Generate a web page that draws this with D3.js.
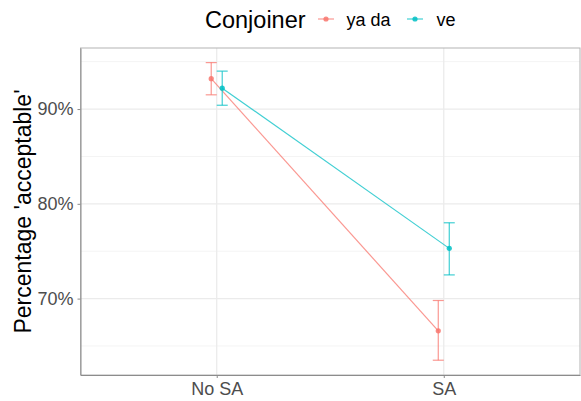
<!DOCTYPE html>
<html>
<head>
<meta charset="utf-8">
<script src="https://cdn.jsdelivr.net/npm/d3@7"></script>
<style>
  body { margin: 0; background: #fff; }
  svg { display: block; font-family: "Liberation Sans", Arial, sans-serif; }
</style>
</head>
<body>
<div id="chart"></div>
<script>
// data
const conditions = ["No SA", "SA"];
const conjoiners = ["ya da", "ve"];
const colours = ["#F8766D", "#00BFC4"];
const meanYada = [93.2, 66.6];
const lowYada = [91.5, 63.5];
const highYada = [94.9, 69.8];
const meanVe = [92.2, 75.3];
const lowVe = [90.4, 72.5];
const highVe = [94.0, 78.0];
const yTicks = [70, 80, 90];
const yMinor = [65, 75, 85, 95];

const series = [
    { name: conjoiners[0], mean: meanYada, low: lowYada, high: highYada, colour: colours[0], dodge: -5.5 },
    { name: conjoiners[1], mean: meanVe, low: lowVe, high: highVe, colour: colours[1], dodge: 5.5 }
];

const width = 581, height = 401;
const margin = { top: 48, right: 1, bottom: 26, left: 80.5 };
const innerW = width - margin.left - margin.right;
const innerH = height - margin.top - margin.bottom;

const svg = d3.select("#chart").append("svg")
    .attr("width", width)
    .attr("height", height);

const g = svg.append("g")
    .attr("transform", `translate(${margin.left},${margin.top})`);

// discrete axis with 0.6 expansion each side
const x = d3.scalePoint()
    .domain(conditions)
    .range([0, innerW])
    .padding(0.6);

const y = d3.scaleLinear()
    .domain([61.94, 96.44])
    .range([innerH, 0]);

// grid
g.selectAll(".minor")
    .data(yMinor)
    .enter().append("line")
    .attr("x1", 0).attr("x2", innerW)
    .attr("y1", d => y(d)).attr("y2", d => y(d))
    .style("stroke", "#f4f4f4")
    .style("stroke-width", 1);

g.selectAll(".major")
    .data(yTicks)
    .enter().append("line")
    .attr("x1", 0).attr("x2", innerW)
    .attr("y1", d => y(d)).attr("y2", d => y(d))
    .style("stroke", "#ebebeb")
    .style("stroke-width", 1.3);

g.selectAll(".vgrid")
    .data(conditions)
    .enter().append("line")
    .attr("x1", d => x(d)).attr("x2", d => x(d))
    .attr("y1", 0).attr("y2", innerH)
    .style("stroke", "#ebebeb")
    .style("stroke-width", 1.3);

// panel border
g.append("rect")
    .attr("x", 0).attr("y", 0)
    .attr("width", innerW).attr("height", innerH)
    .style("fill", "none")
    .style("stroke", "#b3b3b3")
    .style("stroke-width", 1);

// axes
const xAxis = g.append("g")
    .attr("transform", `translate(0,${innerH})`)
    .call(d3.axisBottom(x).tickSizeInner(3).tickSizeOuter(0).tickPadding(4));

const yAxis = g.append("g")
    .call(d3.axisLeft(y).tickValues(yTicks).tickSizeInner(3).tickSizeOuter(0).tickPadding(4).tickFormat(d => d + "%"));

[xAxis, yAxis].forEach(a => {
    a.select(".domain").style("stroke", "#8c8c8c").style("stroke-width", 1);
    a.selectAll(".tick line").style("stroke", "#8c8c8c");
    a.selectAll(".tick text")
        .style("font-size", "18px")
        .style("fill", "#4d4d4d")
        .style("font-family", "Liberation Sans, Arial, sans-serif");
});

// lines, error bars, points
series.forEach(s => {
    const sg = g.append("g");
    sg.append("path")
        .datum(s.mean)
        .attr("d", d3.line().x((d, i) => x(conditions[i]) + s.dodge).y(d => y(d)))
        .style("fill", "none")
        .style("stroke", s.colour)
        .style("stroke-opacity", 0.75)
        .style("stroke-width", 1.2);

    conditions.forEach((c, i) => {
        const cx = x(c) + s.dodge;
        const eb = sg.append("g")
            .style("stroke", s.colour)
            .style("stroke-opacity", 0.75)
            .style("stroke-width", 1.2);
        eb.append("line")
            .attr("x1", cx).attr("x2", cx)
            .attr("y1", y(s.low[i])).attr("y2", y(s.high[i]));
        eb.append("line")
            .attr("x1", cx - 5.5).attr("x2", cx + 5.5)
            .attr("y1", y(s.low[i])).attr("y2", y(s.low[i]));
        eb.append("line")
            .attr("x1", cx - 5.5).attr("x2", cx + 5.5)
            .attr("y1", y(s.high[i])).attr("y2", y(s.high[i]));
    });

    sg.selectAll("circle")
        .data(s.mean)
        .enter().append("circle")
        .attr("cx", (d, i) => x(conditions[i]) + s.dodge)
        .attr("cy", d => y(d))
        .attr("r", 2.6)
        .style("fill", s.colour)
        .style("fill-opacity", 0.85);
});

// y title
svg.append("text")
    .attr("transform", `translate(31,${margin.top + innerH / 2}) rotate(-90)`)
    .attr("text-anchor", "middle")
    .style("font-size", "23px")
    .style("fill", "#000")
    .text("Percentage 'acceptable'");

// legend on top
const legend = svg.append("g");
legend.append("text")
    .attr("x", 205).attr("y", 28)
    .style("font-size", "23.5px")
    .text("Conjoiner");

const keyX = [318, 407];
const labelX = [346.5, 436.5];
series.forEach((s, i) => {
    legend.append("line")
        .attr("x1", keyX[i]).attr("x2", keyX[i] + 16)
        .attr("y1", 19).attr("y2", 19)
        .style("stroke", s.colour)
        .style("stroke-opacity", 0.75)
        .style("stroke-width", 1.2);
    legend.append("circle")
        .attr("cx", keyX[i] + 8).attr("cy", 19)
        .attr("r", 2.6)
        .style("fill", s.colour)
        .style("fill-opacity", 0.85);
    legend.append("text")
        .attr("x", labelX[i]).attr("y", 26)
        .style("font-size", "18px")
        .text(s.name);
});
</script>
</body>
</html>
